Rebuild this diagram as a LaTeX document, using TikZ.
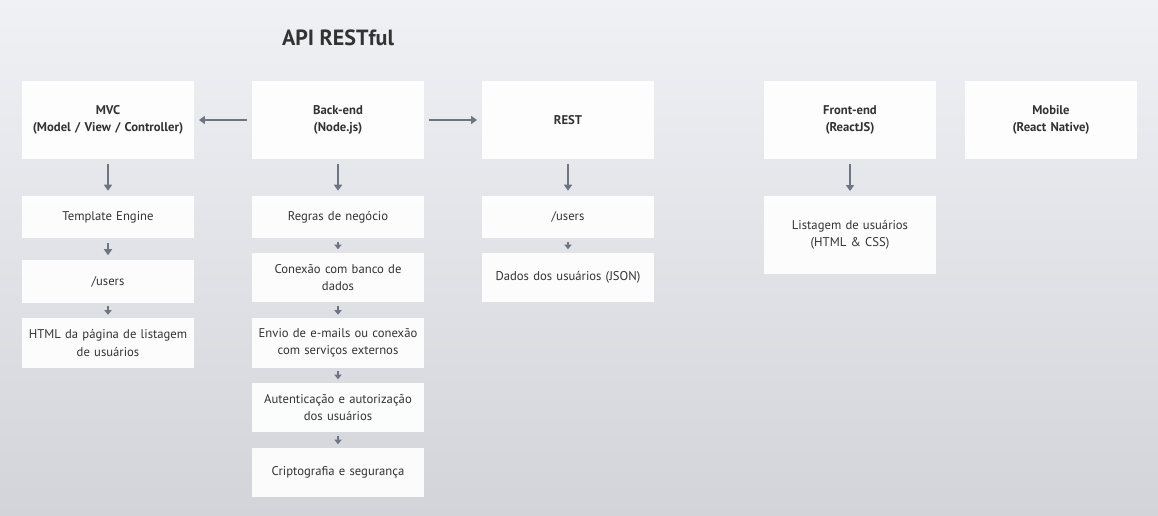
\documentclass[tikz,border=0pt]{standalone}
\usepackage{fontspec}
\setmainfont{PT Sans}
\usetikzlibrary{arrows.meta}
\definecolor{bgtop}{HTML}{F0F1F5}
\definecolor{bgmid}{HTML}{E9EBEF}
\definecolor{bgbottom}{HTML}{D2D4D9}
\definecolor{inkgray}{HTML}{333333}
\definecolor{arrowgray}{HTML}{6E7582}
\tikzset{
  card/.style={fill=white, fill opacity=.92, text opacity=1, text=inkgray,
    minimum width=129pt, text width=124pt, align=center, inner sep=2pt,
    font=\fontsize{9.5}{12.8}\selectfont},
  headcard/.style={card, minimum height=58.5pt, font=\bfseries\fontsize{9.5}{12.8}\selectfont},
  lowcard/.style={card, minimum height=32pt},
  midcard/.style={card, minimum height=37pt},
  bigarrow/.style={arrowgray, line width=1.5pt, -{Triangle[length=4.5pt,width=6pt]},
    shorten >=3.5pt, shorten <=3.5pt},
  tinyarrow/.style={arrowgray, line width=1.3pt, -{Triangle[length=3.5pt,width=5.5pt]},
    shorten >=2.5pt, shorten <=2.5pt}
}
\begin{document}
\begin{tikzpicture}[x=0.75pt, y=-0.75pt]
  % background
  \shade[top color=bgtop, middle color=bgmid, bottom color=bgbottom] (0,0) rectangle (1158,515);
  \node[text=inkgray, font=\bfseries\fontsize{16.5}{19}\selectfont] (api) at (338,38) {API RESTful};
  % top row
  \node[headcard] (mvc) at (108,120) {MVC\\(Model / View / Controller)};
  \node[headcard] (back) at (338,120) {Back-end\\(Node.js)};
  \node[headcard] (rest) at (568,120) {REST};
  \node[headcard] (front) at (850,120) {Front-end\\(ReactJS)};
  \node[headcard] (mobile) at (1051,120) {Mobile\\(React Native)};
  % MVC column
  \node[lowcard] (template) at (108,217) {Template Engine};
  \node[lowcard] (mvcusers) at (108,281.5) {/users};
  \node[midcard] (html) at (108,343) {HTML da página de listagem\\de usuários};
  % back-end column
  \node[lowcard] (regras) at (338,217) {Regras de negócio};
  \node[midcard] (conexao) at (338,277.5) {Conexão com banco de\\dados};
  \node[midcard] (envio) at (338,343) {Envio de e-mails ou conexão\\com serviços externos};
  \node[midcard] (auth) at (338,407.5) {Autenticação e autorização\\dos usuários};
  \node[midcard] (cripto) at (338,472.5) {Criptografia e segurança};
  % REST column
  \node[lowcard] (restusers) at (568,217) {/users};
  \node[midcard] (dados) at (568,277.5) {Dados dos usuários (JSON)};
  % front-end column
  \node[headcard, font=\fontsize{9.5}{12.8}\selectfont] (listagem) at (850,235) {Listagem de usuários\\(HTML \& CSS)};
  % connectors
  \draw[bigarrow] (back) -- (mvc);
  \draw[bigarrow] (back) -- (rest);
  \draw[bigarrow] (mvc) -- (template);
  \draw[bigarrow] (back) -- (regras);
  \draw[bigarrow] (rest) -- (restusers);
  \draw[bigarrow] (front) -- (listagem);
  \draw[bigarrow] (template) -- (mvcusers);
  \draw[tinyarrow] (mvcusers) -- (html);
  \draw[tinyarrow] (regras) -- (conexao);
  \draw[tinyarrow] (conexao) -- (envio);
  \draw[tinyarrow] (envio) -- (auth);
  \draw[tinyarrow] (auth) -- (cripto);
  \draw[tinyarrow] (restusers) -- (dados);
\end{tikzpicture}
\end{document}
